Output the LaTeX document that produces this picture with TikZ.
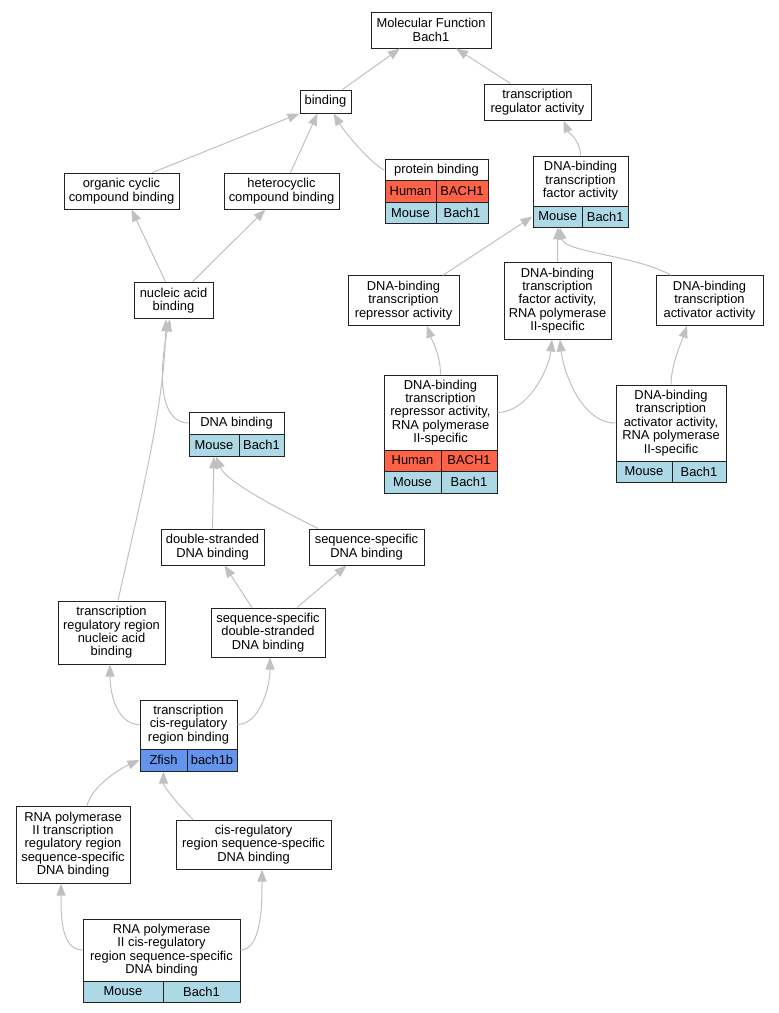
\documentclass[tikz,border=0pt]{standalone}
\usepackage{fontspec}
\setmainfont{Liberation Sans}
\usetikzlibrary{arrows.meta}

\definecolor{human}{HTML}{FF6347}
\definecolor{mouse}{HTML}{ADD8E6}
\definecolor{zfish}{HTML}{6495ED}
\definecolor{edgegray}{HTML}{C0C0C0}
\definecolor{boxline}{HTML}{222222}
\newcommand{\termfont}{\fontsize{12.9pt}{13.4pt}\selectfont}

\tikzset{
  term/.style={draw=boxline, line width=1pt, fill=white, align=center, inner sep=0pt, font=\termfont},
  gene/.style={draw=boxline, line width=1pt, inner sep=0pt, minimum height=21.5pt, font=\termfont},
  isa/.style={draw=edgegray, line width=1pt, -{Triangle[length=12pt,width=9pt]}}
}

\begin{document}
\begin{tikzpicture}[x=1pt,y=-1pt]
        \useasboundingbox (0,0) rectangle (779,1013); % page size of the reference

        % terms, top to bottom
        \node[term, minimum width=120pt, minimum height=36pt] (mf) at (431,30) {Molecular Function\\Bach1};
        \node[term, minimum width=51pt, minimum height=23pt] (binding) at (325.5,101.5) {binding};
        \node[term, minimum width=107pt, minimum height=36pt] (tra) at (537.5,102) {transcription\\regulator activity};

        \node[term, minimum width=103pt, minimum height=22pt] (prot) at (436.5,170) {protein binding};
        \node[gene, fill=human, minimum width=51pt] (proth) at (410.5,191.5) {Human};
        \node[gene, fill=human, minimum width=52pt] (protH) at (462,191.5) {BACH1};
        \node[gene, fill=mouse, minimum width=51pt] (protm) at (410.5,213) {Mouse};
        \node[gene, fill=mouse, minimum width=52pt] (protM) at (462,213) {Bach1};

        \node[term, minimum width=95pt, minimum height=50pt] (dbtf) at (580.5,181) {DNA-binding\\transcription\\factor activity};
        \node[gene, fill=mouse, minimum width=49.5pt, minimum height=21pt] (dbtfm) at (557.75,216.5) {Mouse};
        \node[gene, fill=mouse, minimum width=45.5pt, minimum height=21pt] (dbtfM) at (605.25,216.5) {Bach1};

        \node[term, minimum width=115pt, minimum height=36pt] (orgc) at (121.5,191) {organic cyclic\\compound binding};
        \node[term, minimum width=115pt, minimum height=36pt] (hetc) at (281.5,191) {heterocyclic\\compound binding};
        \node[term, minimum width=79pt, minimum height=36.5pt] (nab) at (173.5,300.5) {nucleic acid\\binding};

        \node[term, minimum width=111pt, minimum height=49.5pt] (rep) at (403.5,300.5) {DNA-binding\\transcription\\repressor activity};
        \node[term, minimum width=107pt, minimum height=77pt] (fac2) at (557.5,300.5) {DNA-binding\\transcription\\factor activity,\\RNA polymerase\\II-specific};
        \node[term, minimum width=107pt, minimum height=49.5pt] (act) at (709.5,300.5) {DNA-binding\\transcription\\activator activity};

        \node[term, minimum width=113pt, minimum height=75pt] (rep2) at (440.5,412.5) {DNA-binding\\transcription\\repressor activity,\\RNA polymerase\\II-specific};
        \node[gene, fill=human, minimum width=57pt, minimum height=21pt] (rep2h) at (412.5,460.5) {Human};
        \node[gene, fill=human, minimum width=56pt, minimum height=21pt] (rep2H) at (469,460.5) {BACH1};
        \node[gene, fill=mouse, minimum width=57pt, minimum height=22pt] (rep2m) at (412.5,482) {Mouse};
        \node[gene, fill=mouse, minimum width=56pt, minimum height=22pt] (rep2M) at (469,482) {Bach1};

        \node[term, minimum width=110pt, minimum height=76pt] (act2) at (671,423) {DNA-binding\\transcription\\activator activity,\\RNA polymerase\\II-specific};
        \node[gene, fill=mouse, minimum width=56pt, minimum height=21pt] (act2m) at (644,471.5) {Mouse};
        \node[gene, fill=mouse, minimum width=54pt, minimum height=21pt] (act2M) at (699,471.5) {Bach1};

        \node[term, minimum width=95pt, minimum height=22pt] (dnab) at (236.5,423) {DNA binding};
        \node[gene, fill=mouse, minimum width=50pt, minimum height=22pt] (dnabm) at (214,445) {Mouse};
        \node[gene, fill=mouse, minimum width=45pt, minimum height=22pt] (dnabM) at (261.5,445) {Bach1};

        \node[term, minimum width=103pt, minimum height=36pt] (dsb) at (212.5,547) {double-stranded\\DNA binding};
        \node[term, minimum width=115pt, minimum height=36pt] (ssb) at (366.5,547) {sequence-specific\\DNA binding};
        \node[term, minimum width=107pt, minimum height=63pt] (trrn) at (111.5,632.5) {transcription\\regulatory region\\nucleic acid\\binding};
        \node[term, minimum width=114pt, minimum height=49pt] (ssds) at (268,632.5) {sequence-specific\\double-stranded\\DNA binding};

        \node[term, minimum width=97pt, minimum height=49pt] (tcis) at (188.5,724.5) {transcription\\cis-regulatory\\region binding};
        \node[gene, fill=zfish, minimum width=47pt, minimum height=22pt] (tciz) at (163.5,760) {Zfish};
        \node[gene, fill=zfish, minimum width=50pt, minimum height=22pt] (tciZ) at (212,760) {bach1b};

        \node[term, minimum width=114pt, minimum height=77pt] (rp2t) at (73,844.5) {RNA polymerase\\II transcription\\regulatory region\\sequence-specific\\DNA binding};
        \node[term, minimum width=155pt, minimum height=49pt] (cisr) at (253.5,844.5) {cis-regulatory\\region sequence-specific\\DNA binding};

        \node[term, minimum width=157pt, minimum height=62pt] (rp2c) at (161.5,950) {RNA polymerase\\II cis-regulatory\\region sequence-specific\\DNA binding};
        \node[gene, fill=mouse, minimum width=80pt, minimum height=21pt] (rp2cm) at (123,991.5) {Mouse};
        \node[gene, fill=mouse, minimum width=77pt, minimum height=21pt] (rp2cM) at (201.5,991.5) {Bach1};

        % is_a edges, child to parent
        \draw[isa] ([xshift=17pt]binding.north) -- ([xshift=-31pt]mf.south);
        \draw[isa] ([xshift=-27pt]tra.north) -- ([xshift=25pt]mf.south);
        \draw[isa] ([xshift=31pt]orgc.north) -- (binding.south west);
        \draw[isa] ([xshift=9pt]hetc.north) -- ([xshift=-8pt]binding.south);
        \draw[isa] (prot.west) .. controls +(-12,-5) and +(12,20) .. ([xshift=8pt]binding.south);
        \draw[isa] (dbtf.north) .. controls +(0,-15) and +(5,12) .. ([xshift=26pt]tra.south);
        \draw[isa] ([xshift=-8pt]nab.north) -- ([xshift=10pt]orgc.south);
        \draw[isa] ([xshift=19pt]nab.north) -- ([xshift=-16pt]hetc.south);
        \draw[isa] ([xshift=39.5pt]rep.north) -- (dbtfm.west);
        \draw[isa] (fac2.north) -- (dbtfm.south);
        \draw[isa] ([xshift=-38.5pt]act.north) .. controls +(-35,-20) and +(5,25) .. ([xshift=2pt]dbtfm.south);
        \draw[isa] (rep2.north) .. controls +(0,-20) and +(5,15) .. ([xshift=23.5pt]rep.south);
        \draw[isa] (rep2.east) .. controls +(30,0) and +(-3,30) .. ([xshift=-5.5pt]fac2.south);
        \draw[isa] (act2.west) .. controls +(-35,0) and +(3,30) .. ([xshift=2.5pt]fac2.south);
        \draw[isa] (act2.north) .. controls +(0,-20) and +(-5,15) .. ([xshift=-22.5pt]act.south);
        \draw[isa] (dnab.west) .. controls +(-32,0) and +(-10,45) .. ([xshift=-3.5pt]nab.south);
        \draw[isa] ([xshift=6.5pt]trrn.north) .. controls +(20,-90) and +(-2,90) .. ([xshift=-7.5pt]nab.south);
        \draw[isa] (dsb.north) -- (dnabm.south);
        \draw[isa] ([xshift=-48.5pt]ssb.north) .. controls +(-40,-20) and +(10,25) .. ([xshift=2pt]dnabm.south);
        \draw[isa] ([xshift=-16pt]ssds.north) -- ([xshift=12pt]dsb.south);
        \draw[isa] ([xshift=29pt]ssds.north) -- ([xshift=-20pt]ssb.south);
        \draw[isa] (tcis.west) .. controls +(-22,0) and +(0,30) .. ([xshift=-1.5pt]trrn.south);
        \draw[isa] (tcis.east) .. controls +(22,0) and +(0,30) .. ([xshift=2pt]ssds.south);
        \draw[isa] ([xshift=14pt]rp2t.north) .. controls +(5,-20) and +(-18,8) .. (tciz.west);
        \draw[isa] ([xshift=-60.5pt]cisr.north) .. controls +(-15,-15) and +(0,15) .. (tciz.south);
        \draw[isa] (rp2c.west) .. controls +(-22,0) and +(0,30) .. ([xshift=-12pt]rp2t.south);
        \draw[isa] (rp2c.east) .. controls +(22,0) and +(0,30) .. ([xshift=8.5pt]cisr.south);
    \end{tikzpicture}
\end{document}
